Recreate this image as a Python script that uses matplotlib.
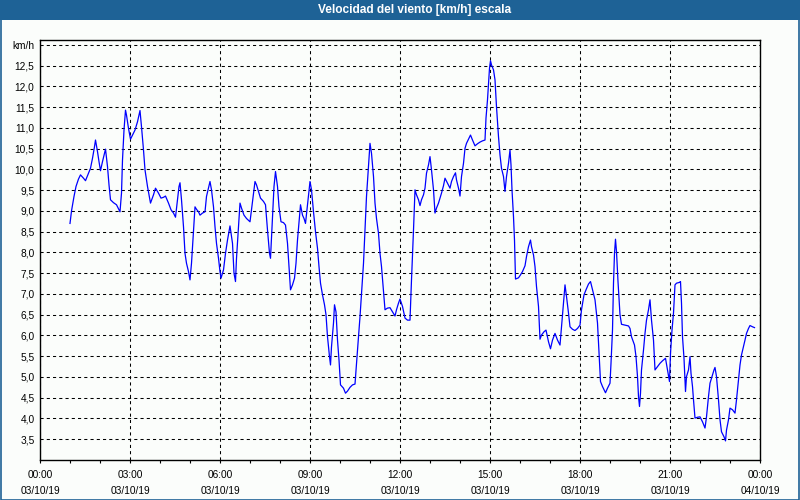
import matplotlib
matplotlib.use("Agg")
import matplotlib.pyplot as plt
from matplotlib.patches import Rectangle
import numpy as np

# ---------------- data ----------------
title = "Velocidad del viento [km/h] escala"
unit_label = "km/h"

# time of each sample, minutes after 00:00 on 03/10/19
minutes = [
    60, 63, 68, 72, 77, 81, 87, 91, 97, 101, 105, 109, 111, 115, 118, 121, 125, 129, 131, 135,
    138, 141, 147, 153, 160, 163, 165, 168, 171, 173, 177, 181, 185, 190, 195, 200, 203, 207, 210, 215,
    221, 227, 231, 237, 242, 247, 251, 257, 262, 267, 271, 275, 278, 280, 283, 287, 290, 293, 297, 300,
    303, 307, 310, 313, 317, 320, 325, 330, 333, 337, 340, 343, 347, 350, 353, 357, 360, 362, 367, 371,
    375, 380, 385, 388, 391, 393, 397, 400, 403, 408, 413, 420, 423, 427, 430, 433, 437, 441, 447, 451,
    455, 459, 461, 465, 468, 471, 475, 478, 482, 487, 491, 495, 498, 501, 505, 509, 512, 515, 519, 521,
    525, 528, 531, 535, 538, 540, 543, 547, 551, 555, 558, 561, 565, 569, 572, 575, 579, 581, 583, 587,
    589, 592, 595, 598, 601, 607, 611, 615, 620, 625, 630, 633, 637, 640, 643, 647, 650, 653, 657, 660,
    663, 667, 670, 673, 677, 680, 683, 687, 690, 695, 700, 705, 710, 713, 717, 720, 725, 730, 735, 740,
    743, 747, 750, 753, 757, 760, 763, 767, 770, 773, 777, 780, 783, 787, 790, 793, 797, 800, 803, 807,
    810, 815, 820, 823, 827, 831, 833, 837, 840, 843, 847, 850, 853, 857, 861, 865, 870, 875, 880, 885,
    890, 892, 895, 897, 899, 901, 903, 907, 910, 913, 917, 920, 923, 927, 930, 933, 937, 940, 942, 944,
    947, 949, 951, 957, 961, 965, 970, 973, 977, 981, 983, 987, 990, 993, 997, 1000, 1003, 1008, 1012, 1017,
    1021, 1025, 1030, 1035, 1040, 1043, 1047, 1050, 1053, 1057, 1060, 1065, 1070, 1075, 1080, 1083, 1088, 1092, 1097, 1101,
    1105, 1110, 1115, 1118, 1121, 1125, 1131, 1135, 1140, 1142, 1145, 1147, 1149, 1151, 1153, 1156, 1160, 1163, 1170, 1177,
    1180, 1183, 1189, 1192, 1195, 1197, 1199, 1201, 1203, 1207, 1210, 1213, 1217, 1220, 1223, 1227, 1230, 1235, 1240, 1245,
    1251, 1255, 1259, 1261, 1264, 1267, 1270, 1273, 1279, 1281, 1283, 1285, 1288, 1290, 1291, 1293, 1297, 1300, 1302, 1305,
    1307, 1310, 1315, 1320, 1325, 1330, 1333, 1337, 1340, 1345, 1348, 1350, 1353, 1357, 1360, 1363, 1368, 1371, 1373, 1377,
    1380, 1385, 1390, 1393, 1397, 1400, 1403, 1407, 1410, 1413, 1417, 1420, 1425, 1429,
]

wind_kmh = [
    8.70, 9.00, 9.35, 9.59, 9.77, 9.87, 9.79, 9.73, 9.91, 10.03, 10.27, 10.55, 10.71, 10.43, 10.19, 9.97, 10.19, 10.39, 10.49, 10.07,
    9.63, 9.27, 9.20, 9.15, 8.98, 9.43, 10.23, 10.95, 11.43, 11.31, 10.99, 10.73, 10.83, 10.95, 11.15, 11.42, 11.03, 10.47, 9.99, 9.59,
    9.19, 9.39, 9.55, 9.43, 9.31, 9.33, 9.36, 9.19, 9.03, 8.95, 8.85, 9.27, 9.59, 9.68, 9.27, 8.62, 7.98, 7.74, 7.54, 7.34,
    7.74, 8.54, 9.10, 9.04, 8.98, 8.90, 8.95, 8.98, 9.35, 9.55, 9.71, 9.51, 9.10, 8.62, 8.22, 7.86, 7.54, 7.38, 7.58, 7.98,
    8.30, 8.64, 8.22, 7.50, 7.30, 7.86, 8.62, 9.19, 9.07, 8.90, 8.82, 8.74, 9.03, 9.43, 9.71, 9.63, 9.47, 9.31, 9.23, 9.15,
    8.54, 7.98, 7.86, 8.86, 9.59, 9.95, 9.59, 9.10, 8.74, 8.72, 8.66, 8.22, 7.66, 7.10, 7.22, 7.38, 7.74, 8.30, 8.86, 9.15,
    8.90, 8.82, 8.70, 9.15, 9.47, 9.71, 9.51, 8.98, 8.50, 8.10, 7.66, 7.26, 6.98, 6.74, 6.50, 5.97, 5.49, 5.29, 5.73, 6.30,
    6.74, 6.57, 5.89, 5.41, 4.81, 4.73, 4.61, 4.66, 4.75, 4.81, 4.83, 5.33, 5.97, 6.45, 7.02, 7.74, 8.54, 9.35, 10.07, 10.63,
    10.39, 9.83, 9.19, 8.82, 8.46, 7.98, 7.66, 7.06, 6.62, 6.66, 6.67, 6.57, 6.47, 6.62, 6.78, 6.88, 6.70, 6.42, 6.37, 6.37,
    7.34, 8.54, 9.51, 9.39, 9.27, 9.13, 9.27, 9.39, 9.55, 9.91, 10.11, 10.31, 9.99, 9.51, 8.95, 9.07, 9.19, 9.31, 9.43, 9.61,
    9.79, 9.67, 9.55, 9.71, 9.83, 9.92, 9.75, 9.55, 9.36, 9.83, 10.15, 10.51, 10.63, 10.73, 10.83, 10.71, 10.57, 10.62, 10.66, 10.69,
    10.71, 11.24, 11.68, 12.08, 12.44, 12.62, 12.52, 12.40, 12.16, 11.51, 10.79, 10.35, 10.03, 9.83, 9.47, 9.83, 10.15, 10.47, 10.11, 9.51,
    8.86, 8.30, 7.36, 7.39, 7.46, 7.54, 7.68, 7.90, 8.14, 8.30, 8.14, 7.94, 7.66, 7.18, 6.70, 5.91, 6.01, 6.09, 6.13, 5.85,
    5.68, 5.89, 6.05, 5.89, 5.77, 6.21, 6.78, 7.22, 6.94, 6.54, 6.21, 6.15, 6.12, 6.17, 6.25, 6.62, 6.98, 7.10, 7.24, 7.30,
    7.10, 6.86, 6.30, 5.57, 4.89, 4.77, 4.62, 4.73, 4.85, 5.33, 6.13, 7.26, 7.98, 8.32, 8.02, 7.30, 6.50, 6.27, 6.25, 6.23,
    6.17, 5.97, 5.77, 5.49, 5.01, 4.53, 4.29, 4.61, 5.17, 5.65, 6.05, 6.37, 6.62, 6.86, 6.37, 5.89, 5.17, 5.25, 5.33, 5.39,
    5.45, 5.17, 4.89, 5.57, 6.13, 6.54, 7.22, 7.26, 7.28, 7.30, 6.78, 5.97, 5.45, 4.89, 4.65, 5.01, 5.17, 5.49, 5.09, 4.77,
    4.45, 4.01, 4.03, 4.04, 3.92, 3.77, 4.04, 4.53, 4.85, 5.05, 5.17, 5.23, 5.01, 4.45, 3.97, 3.68, 3.56, 3.46, 3.72, 3.97,
    4.25, 4.21, 4.13, 4.45, 4.93, 5.29, 5.53, 5.73, 5.89, 6.05, 6.17, 6.24, 6.21, 6.19,
]

time_labels = ["00:00", "03:00", "06:00", "09:00", "12:00", "15:00", "18:00", "21:00", "00:00"]
date_labels = ["03/10/19"] * 8 + ["04/10/19"]
y_ticks = [3.5, 4.0, 4.5, 5.0, 5.5, 6.0, 6.5, 7.0, 7.5, 8.0, 8.5, 9.0, 9.5, 10.0, 10.5, 11.0, 11.5, 12.0, 12.5, 13.0]

# ---------------- style ----------------
W, H = 800, 500
BAR = "#1e6296"
BG = "#fbfdfb"
FONT = ["Liberation Sans", "DejaVu Sans"]

fig = plt.figure(figsize=(W / 100, H / 100), dpi=100, facecolor=BG)
ax = fig.add_axes([40 / W, 1 - 460 / H, 720 / W, 420 / H], facecolor=BG)

# title bar
fig.patches.append(Rectangle((0, 1 - 20 / H), 1, 20 / H, transform=fig.transFigure,
                             facecolor=BAR, edgecolor="none", zorder=0))
fig.text(415 / W, 1 - 10.5 / H, title, ha="center", va="center", color="white",
         fontsize=8.6, fontweight="bold", family=FONT)
# outer frame
fig.patches.append(Rectangle((0.5 / W, 0.5 / H), 1 - 1.5 / W, 1 - 1.5 / H, transform=fig.transFigure,
                             facecolor="none", edgecolor=BAR, linewidth=1.2, zorder=5))

hours = np.array(minutes) / 60.0
ax.plot(hours, wind_kmh, color="#0000ff", linewidth=0.9, zorder=3)

ax.set_xlim(0, 24)
ax.set_ylim(3.0, 13.12)

ax.set_xticks(np.arange(0, 25, 3))
ax.set_xticklabels([f"{t}\n{d}" for t, d in zip(time_labels, date_labels)],
                   fontsize=7.3, family=FONT, linespacing=1.7)
ax.set_xticks(np.arange(0, 25, 1), minor=True)

ylabels = [f"{v:.1f}".replace(".", ",") for v in y_ticks[:-1]] + [unit_label]
ax.set_yticks(y_ticks)
ax.set_yticklabels(ylabels, fontsize=7.3, family=FONT)

ax.tick_params(axis="x", which="both", direction="out", length=2.5, width=0.8,
               color="black", pad=5)
ax.tick_params(axis="y", which="both", length=0, pad=4)

ax.grid(True, which="major", color="black", linestyle=(0, (3, 3)), linewidth=0.75)
ax.set_axisbelow(True)
for s in ax.spines.values():
    s.set_color("black")
    s.set_linewidth(1.0)

fig.savefig("out.png", dpi=100, facecolor=BG)
